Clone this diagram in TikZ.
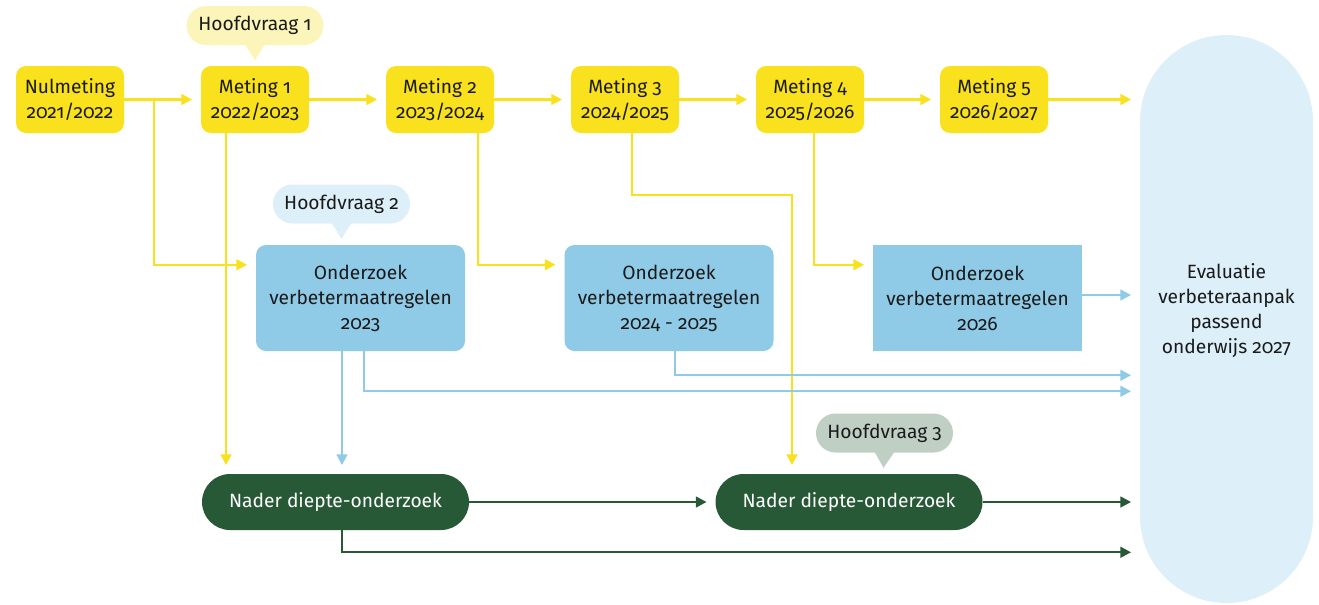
\documentclass[tikz,border=0pt]{standalone}
\usepackage{fontspec}
\setmainfont{Fira Sans}[Numbers=OldStyle]
\usetikzlibrary{arrows.meta,calc}
\definecolor{ryel}{HTML}{F9E11E}
\definecolor{rhv1}{HTML}{FCF5B9}
\definecolor{rblue}{HTML}{8FCAE7}
\definecolor{rlblue}{HTML}{DDEFF8}
\definecolor{rgreen}{HTML}{275937}
\definecolor{rhv3}{HTML}{C0CFC4}
\definecolor{rtext}{HTML}{1A1A1A}
\tikzset{
  basefont/.style={font=\fontsize{14.4pt}{18.75pt}\selectfont, text=rtext, align=center},
  meetbox/.style={basefont, fill=ryel, rounded corners=7.5pt, minimum width=81pt, minimum height=50.25pt, inner sep=0pt},
  onderbox/.style={basefont, fill=rblue, rounded corners=7.5pt, minimum width=156.75pt, minimum height=79.5pt, inner sep=0pt},
  diepbox/.style={basefont, text=white, fill=rgreen, rounded corners=21pt, minimum width=200.25pt, minimum height=42pt, inner sep=0pt},
  bubble/.style={basefont, rounded corners=14.6pt, minimum width=102.75pt, minimum height=29.25pt, inner sep=0pt},
  arr/.style={line width=1.75pt, -{Triangle[length=8pt,width=8pt]}, shorten >=6.5pt},
  yarr/.style={arr, draw=ryel},
  barr/.style={arr, draw=rblue},
  garr/.style={arr, draw=rgreen},
}
\begin{document}
\begin{tikzpicture}[x=0.75pt,y=-0.75pt]
\useasboundingbox (0,0) rectangle (1319,604);

% evaluation
\node[fill=rlblue, rounded corners=64.8pt, minimum width=129.75pt, minimum height=426pt, inner sep=0pt] (eval) at (1226.5,319) {};
\node[basefont] (evaltext) at (1226.5,311) {Evaluatie\\verbeteraanpak\\passend\\onderwijs 2027};

% metingen
\node[meetbox] (nul) at (70,99.5) {Nulmeting\\2021/2022};
\node[meetbox] (m1) at (255,99.5) {Meting 1\\2022/2023};
\node[meetbox] (m2) at (440,99.5) {Meting 2\\2023/2024};
\node[meetbox] (m3) at (625,99.5) {Meting 3\\2024/2025};
\node[meetbox] (m4) at (810,99.5) {Meting 4\\2025/2026};
\node[meetbox] (m5) at (994,99.5) {Meting 5\\2026/2027};

% onderzoeken
\node[onderbox] (b1) at (360.5,298) {Onderzoek\\verbetermaatregelen\\2023};
\node[onderbox] (b2) at (669,298) {Onderzoek\\verbetermaatregelen\\2024 - 2025};
\node[onderbox, rounded corners=0pt] (b3) at (977.5,298) {Onderzoek\\verbetermaatregelen\\2026};

% diepte
\node[diepbox] (g1) at (335.5,502) {Nader diepte-onderzoek};
\node[diepbox] (g2) at (849,502) {Nader diepte-onderzoek};

% bubbles
\node[bubble, fill=rhv1] (h1) at (255,25.5) {Hoofdvraag 1};
\fill[rhv1] ($(h1.south)+(-10,-1)$) -- ($(h1.south)+(0,15)$) -- ($(h1.south)+(10,-1)$) -- cycle;
\node[bubble, fill=rlblue] (h2) at (341.5,204) {Hoofdvraag 2};
\fill[rlblue] ($(h2.south)+(-10,-1)$) -- ($(h2.south)+(0,15)$) -- ($(h2.south)+(10,-1)$) -- cycle;
\node[bubble, fill=rhv3] (h3) at (884.5,433) {Hoofdvraag 3};
\fill[rhv3] ($(h3.south)+(-10,-1)$) -- ($(h3.south)+(-1,15)$) -- ($(h3.south)+(10,-1)$) -- cycle;

% yellow connectors
\draw[yarr] (nul.east) -- (m1.west);
\draw[yarr] (m1.east) -- (m2.west);
\draw[yarr] (m2.east) -- (m3.west);
\draw[yarr] (m3.east) -- (m4.west);
\draw[yarr] (m4.east) -- (m5.west);
\draw[yarr] (m5.east) -- (m5.east -| eval.west);
\coordinate (br) at ($(nul.east)+(30,0)$);
\draw[yarr] (br) |- ($(b1.north west)+(0,20)$);
\coordinate (m1d) at ($(m1.south)+(-29,0)$);
\draw[yarr] (m1d) -- (m1d |- g1.north);
\coordinate (m2d) at ($(m2.south)+(38,0)$);
\draw[yarr] (m2d) |- ($(b2.north west)+(0,20)$);
\coordinate (m3d) at ($(m3.south)+(7,0)$);
\coordinate (g2u) at ($(g2.north)+(-57,0)$);
\draw[yarr] (m3d) -- ++(0,62) -| (g2u);
\coordinate (m4d) at ($(m4.south)+(4,0)$);
\draw[yarr] (m4d) |- ($(b3.north west)+(0,20)$);

% blue connectors
\coordinate (b1d) at ($(b1.south)+(-18.5,0)$);
\draw[barr] (b1d) -- (b1d |- g1.north);
\coordinate (b1e) at ($(b1.south)+(3.5,0)$);
\draw[barr] (b1e) |- ($(eval.west |- b1e)+(0,40)$);
\coordinate (b2e) at ($(b2.south)+(6,0)$);
\draw[barr] (b2e) |- ($(eval.west |- b2e)+(0,24)$);
\draw[barr] ($(b3.east)+(0,-3)$) -- ($(b3.east -| eval.west)+(0,-3)$);

% green connectors
\draw[garr] (g1.east) -- (g2.west);
\draw[garr] (g2.east) -- (g2.east -| eval.west);
\coordinate (g1d) at ($(g1.south)+(6.5,0)$);
\draw[garr] (g1d) |- ($(eval.west |- g1d)+(0,22)$);
\end{tikzpicture}
\end{document}
